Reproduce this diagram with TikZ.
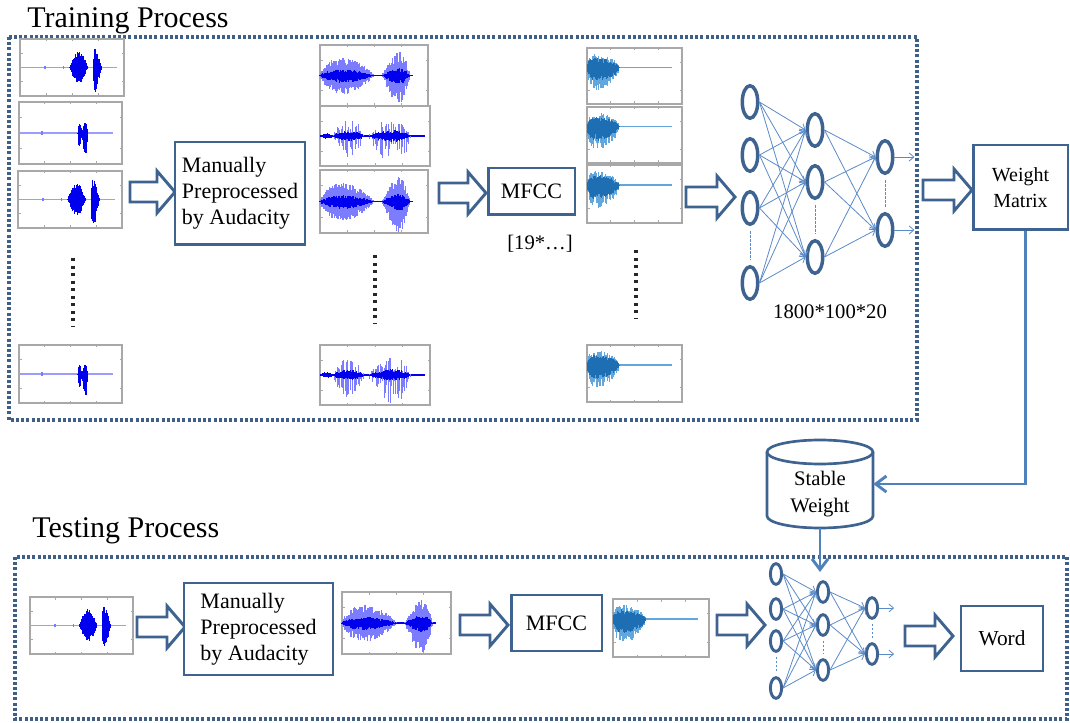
\documentclass[tikz,border=0pt]{standalone}
\usepackage{fontspec}
\setmainfont{Liberation Serif}
\usetikzlibrary{arrows.meta,shapes.geometric,calc}

\definecolor{boxblue}{HTML}{3F6390}
\definecolor{dotblue}{HTML}{3D5F88}
\definecolor{linkblue}{HTML}{4F81BD}
\definecolor{netblue}{HTML}{5A8AC8}
\definecolor{wavedark}{HTML}{0000EE}
\definecolor{wavelight}{HTML}{7C7CFF}
\definecolor{wavefaint}{HTML}{9C9CFF}
\definecolor{mfccdark}{HTML}{1E6EB4}
\definecolor{mfcclight}{HTML}{62A6DC}
\definecolor{framegray}{HTML}{A8A8A8}

\tikzset{
  region/.style={draw=dotblue, line width=2.3pt, dash pattern=on 2.25pt off 1.65pt},
  procbox/.style={draw=boxblue, line width=2pt, fill=white, inner sep=0pt, align=left,
    font=\fontsize{16.5}{19.5}\selectfont},
  heading/.style={anchor=base west, inner sep=0pt, font=\fontsize{22.5}{27}\selectfont},
  plain/.style={inner sep=0pt, font=\fontsize{15.5}{19}\selectfont},
  blockarrow/.style={draw=boxblue, line width=2.2pt, fill=white, line join=miter},
  neuron/.style={ellipse, draw=boxblue, line width=2.6pt, fill=white, inner sep=0pt,
    minimum width=11.6pt, minimum height=24.4pt},
  tneuron/.style={neuron, line width=2.2pt, minimum width=8.4pt, minimum height=15.5pt},
  synapse/.style={draw=netblue, line width=0.6pt, -{Straight Barb[length=3.5pt,width=6pt]}},
  gap/.style={draw=netblue, line width=0.7pt, dash pattern=on 2pt off 1pt,
    shorten <=4pt, shorten >=4pt},
  link/.style={draw=linkblue, line width=2.2pt, -{Straight Barb[length=8pt,width=12pt]}},
  cylline/.style={draw=boxblue, line width=2pt},
  thumbline/.style={draw=framegray, line width=1pt, fill=white},
  tick/.style={draw=framegray, line width=0.5pt},
  ellipsisdots/.style={draw=black!85, line width=2.4pt, dash pattern=on 2.25pt off 3.4pt}
}

% envelope shape defaults: peak position (\bq), sharpness (\bp), lowest random factor (\rlo)
\def\bq{1}\def\bp{0.6}\def\rlo{0.7}

% one burst of a waveform: vertical strokes under a sine envelope
\newcommand\burst[8]{% x0, x1, centre y, amp up, amp down, colour, step, stroke width
  \pgfmathsetmacro\bxa{#1}\pgfmathsetmacro\bxb{#2}\pgfmathsetmacro\byc{#3}%
  \pgfmathsetmacro\bup{#4}\pgfmathsetmacro\bdn{#5}%
  \pgfmathsetmacro\bwid{\bxb-\bxa}\pgfmathsetmacro\bnext{\bxa+#7}%
  \foreach \xx in {\bxa,\bnext,...,\bxb}{%
    \pgfmathsetmacro\wvt{(\xx-\bxa)/\bwid+0.001}%
    \pgfmathsetmacro\wve{(abs(sin(180*(\wvt)^\bq))+0.001)^\bp}%
    \pgfmathsetmacro\wvu{\bup*\wve*(\rlo+(1-\rlo)*rnd)}%
    \pgfmathsetmacro\wvd{\bdn*\wve*(\rlo+(1-\rlo)*rnd)}%
    \draw[#6, line width=#8] (\xx,\byc-\wvu) -- (\xx,\byc+\wvd);
  }}

% plot frame with faint axis ticks
\newcommand\thumbsetup[4]{%
  \draw[thumbline] (#1,#2) rectangle (#3,#4);
  \pgfmathsetmacro\tx{#1}\pgfmathsetmacro\twd{#3-#1}%
  \pgfmathsetmacro\tyc{(#2+#4)/2}\pgfmathsetmacro\thh{(#4-#2)/2}%
  \foreach \q in {0.25,0.5,0.75}{%
    \draw[tick] ({\tx+\q*\twd},#2) -- ++(0,2.5) ({\tx+\q*\twd},#4) -- ++(0,-2.5);}
  \foreach \q in {0.25,0.75}{%
    \draw[tick] (#1,{#2+\q*(#4-#2)}) -- ++(2.5,0) (#3,{#2+\q*(#4-#2)}) -- ++(-2.5,0);}
}

% raw recording, two syllables
\newcommand\rawA[4]{%
  \thumbsetup{#1}{#2}{#3}{#4}%
  \draw[wavefaint, line width=1pt] ({\tx+0.01*\twd},\tyc) -- ({\tx+0.93*\twd},\tyc);
  \draw[wavelight, line width=1.3pt] ({\tx+0.24*\twd},{\tyc-0.07*\thh}) -- ++(0,{0.14*\thh});
  \draw[wavelight, line width=1pt] ({\tx+0.42*\twd},{\tyc-0.04*\thh}) -- ++(0,{0.08*\thh});
  \def\bq{1}\def\bp{0.9}\def\rlo{0.6}%
  \burst{\tx+0.48*\twd}{\tx+0.65*\twd}{\tyc}{0.58*\thh}{0.56*\thh}{wavedark}{0.45}{0.9pt}
  \def\bq{0.45}\def\bp{1.1}\def\rlo{0.55}%
  \burst{\tx+0.705*\twd}{\tx+0.785*\twd}{\tyc}{0.78*\thh}{0.95*\thh}{wavedark}{0.45}{0.9pt}
}

% raw recording, short click
\newcommand\rawB[4]{%
  \thumbsetup{#1}{#2}{#3}{#4}%
  \draw[wavefaint, line width=1pt] ({\tx+0.01*\twd},\tyc) -- ({\tx+0.91*\twd},\tyc);
  \draw[wavelight, line width=1.3pt] ({\tx+0.22*\twd},{\tyc-0.06*\thh}) -- ++(0,{0.12*\thh});
  \def\bq{1}\def\bp{0.8}\def\rlo{0.7}%
  \burst{\tx+0.57*\twd}{\tx+0.61*\twd}{\tyc}{0.33*\thh}{0.45*\thh}{wavedark}{0.45}{0.9pt}
  \burst{\tx+0.615*\twd}{\tx+0.67*\twd}{\tyc}{0.33*\thh}{0.78*\thh}{wavedark}{0.45}{0.9pt}
}

% trimmed recording, dense envelope
\newcommand\prepA[4]{%
  \thumbsetup{#1}{#2}{#3}{#4}%
  \draw[wavedark, line width=1pt] ({\tx+0.0*\twd},\tyc) -- ({\tx+0.86*\twd},\tyc);
  \def\bq{0.8}\def\bp{0.8}\def\rlo{0.55}%
  \burst{\tx+0.0*\twd}{\tx+0.5*\twd}{\tyc}{0.6*\thh}{0.62*\thh}{wavelight}{0.7}{1pt}
  \def\rlo{0.5}%
  \burst{\tx+0.0*\twd}{\tx+0.5*\twd}{\tyc}{0.2*\thh}{0.24*\thh}{wavedark}{0.7}{1pt}
  \def\bq{1.4}\def\rlo{0.5}%
  \burst{\tx+0.57*\twd}{\tx+0.83*\twd}{\tyc}{0.8*\thh}{0.97*\thh}{wavelight}{0.7}{1pt}
  \burst{\tx+0.57*\twd}{\tx+0.83*\twd}{\tyc}{0.25*\thh}{0.3*\thh}{wavedark}{0.7}{1pt}
}

% trimmed recording, spiky voiced segments
\newcommand\prepB[4]{%
  \thumbsetup{#1}{#2}{#3}{#4}%
  \draw[wavedark, line width=0.9pt] ({\tx+0.0*\twd},\tyc) -- ({\tx+0.95*\twd},\tyc);
  \def\bq{1}\def\bp{0.6}\def\rlo{0.6}%
  \burst{\tx+0.0*\twd}{\tx+0.12*\twd}{\tyc}{0.1*\thh}{0.1*\thh}{wavedark}{0.8}{0.7pt}
  \def\rlo{0.1}%
  \burst{\tx+0.12*\twd}{\tx+0.40*\twd}{\tyc}{0.55*\thh}{0.75*\thh}{wavelight}{1.3}{0.6pt}
  \def\rlo{0.5}%
  \burst{\tx+0.12*\twd}{\tx+0.40*\twd}{\tyc}{0.18*\thh}{0.18*\thh}{wavedark}{0.9}{0.7pt}
  \def\bq{1.3}\def\rlo{0.1}%
  \burst{\tx+0.44*\twd}{\tx+0.82*\twd}{\tyc}{0.6*\thh}{0.97*\thh}{wavelight}{1.3}{0.6pt}
  \def\rlo{0.5}%
  \burst{\tx+0.44*\twd}{\tx+0.82*\twd}{\tyc}{0.2*\thh}{0.2*\thh}{wavedark}{0.9}{0.7pt}
}

% MFCC feature trace
\newcommand\mfccplot[4]{%
  \thumbsetup{#1}{#2}{#3}{#4}%
  \pgfmathsetmacro\tyl{\tyc-0.3*\thh}%
  \draw[mfcclight, line width=1.3pt] ({\tx+0.3*\twd},\tyl) -- ({\tx+0.89*\twd},\tyl);
  \def\bq{0.6}\def\bp{0.5}\def\rlo{0.4}%
  \burst{\tx+0.005*\twd}{\tx+0.34*\twd}{\tyl}{0.5*\thh}{0.8*\thh}{mfcclight}{0.6}{0.9pt}
  \def\rlo{0.5}%
  \burst{\tx+0.005*\twd}{\tx+0.34*\twd}{\tyl}{0.35*\thh}{0.5*\thh}{mfccdark}{0.6}{0.9pt}
}

% hollow block arrow
\newcommand\hollowarrow[3]{% tail x, tip x, centre y
  \pgfmathsetmacro\hab{#2-18}%
  \draw[blockarrow] (#1,#3-10) -- (\hab,#3-10) -- (\hab,#3-21) -- (#2,#3)
    -- (\hab,#3+21) -- (\hab,#3+10) -- (#1,#3+10) -- cycle;}

\begin{document}
\begin{tikzpicture}[x=0.75pt,y=-0.75pt]
\useasboundingbox (0,0) rectangle (1070,723);
\pgfmathsetseed{4242}

% ---------------- training stage ----------------
\node[heading] (trainhead) at (27,28) {Training Process};
\draw[region] (9,37) rectangle (917,420);

% recordings
\rawA{20}{39}{124}{96}
\rawB{19}{102}{122}{164}
\rawA{18}{171}{122}{228}
\rawB{19}{345}{122}{403}
\draw[ellipsisdots] (73,258) -- (73,326);

\hollowarrow{130}{175}{192}
\node[procbox, minimum width=97.5pt, minimum height=77pt] (prep) at (240,193.5)
  {Manually\\Preprocessed\\by Audacity};

% trimmed recordings
\prepA{320}{45}{428}{106}
\prepB{320}{106}{430}{166}
\prepA{320}{170}{428}{233}
\prepB{320}{345}{430}{405}
\draw[ellipsisdots] (375,255) -- (375,323);

\hollowarrow{439}{486}{193}
\node[procbox, minimum width=65pt, minimum height=35pt, font=\fontsize{16.5}{19.5}\selectfont]
  (mfcc) at (531.5,191.5) {MFCC};
\node[plain] (dim) at (540,244) {[19*…]};

% feature traces
\mfccplot{587}{48}{682}{104}
\mfccplot{587}{107}{682}{163}
\mfccplot{587}{165}{682}{223}
\mfccplot{587}{345}{682}{402}
\draw[ellipsisdots] (636,250) -- (636,318);

\hollowarrow{686}{735}{197}

% network
\foreach \n/\y in {1/102,2/155,3/208,4/283} \node[neuron] (na\n) at (750,\y) {};
\foreach \n/\y in {1/130,2/182,3/257} \node[neuron] (nb\n) at (815,\y) {};
\foreach \n/\y in {1/157,2/230} \node[neuron] (nc\n) at (885,\y) {};
\foreach \a in {1,...,4} \foreach \b in {1,2,3} \draw[synapse] (na\a.east) -- (nb\b.west);
\foreach \a in {1,2,3} \foreach \b in {1,2} \draw[synapse] (nb\a.east) -- (nc\b.west);
\foreach \b in {1,2} {\coordinate (out\b) at ($(nc\b.east)+(20,0)$); \draw[synapse] (nc\b.east) -- (out\b);}
\draw[gap] (na3.south) -- (na4.north);
\draw[gap] (nb2.south) -- (nb3.north);
\draw[gap] (nc1.south) -- (nc2.north);
\node[plain] (size) at (830,312) {1800*100*20};

\hollowarrow{923}{972}{190}
\node[procbox, minimum width=71pt, minimum height=63.5pt, align=center,
  font=\fontsize{15}{19.5}\selectfont] (wm) at (1020.5,187.5) {Weight\\Matrix};

% ---------------- stored weights ----------------
\path[fill=white] (767,452) -- (767,516) arc[start angle=180,end angle=360,x radius=39.75pt,y radius=9pt]
  -- (873,452) arc[start angle=0,end angle=180,x radius=39.75pt,y radius=9pt] -- cycle;
\draw[cylline] (767,452) -- (767,516) arc[start angle=180,end angle=360,x radius=39.75pt,y radius=9pt]
  -- (873,452);
\draw[cylline] (820,452) ellipse[x radius=39.75pt, y radius=9pt];
\node[minimum width=79.5pt, minimum height=66pt, inner sep=0pt] (sw) at (820,484) {};
\node[plain, align=center, font=\fontsize{15.5}{20}\selectfont] (swtext) at (820,494) {Stable\\Weight};

\draw[link] ([xshift=3.75pt]wm.south) |- (sw.east);

% ---------------- testing stage ----------------
\node[heading] (testhead) at (32,537) {Testing Process};
\draw[region] (15,557) rectangle (1067,719);

\rawA{30}{597}{133}{654}
\hollowarrow{137}{185}{627}
\node[procbox, minimum width=111.75pt, minimum height=69pt] (tprep) at (258.5,629)
  {Manually\\Preprocessed\\by Audacity};
\prepA{342}{592}{451}{654}
\hollowarrow{460}{508}{625}
\node[procbox, minimum width=68pt, minimum height=42pt] (tmfcc) at (556.5,623) {MFCC};
\mfccplot{613}{599}{709}{657}
\hollowarrow{717}{765}{625}

\foreach \n/\y in {1/574,2/609,3/641,4/688} \node[tneuron] (ta\n) at (776,\y) {};
\foreach \n/\y in {1/592,2/625,3/670} \node[tneuron] (tb\n) at (823,\y) {};
\foreach \n/\y in {1/608,2/654} \node[tneuron] (tc\n) at (872,\y) {};
\foreach \a in {1,...,4} \foreach \b in {1,2,3} \draw[synapse] (ta\a.east) -- (tb\b.west);
\foreach \a in {1,2,3} \foreach \b in {1,2} \draw[synapse] (tb\a.east) -- (tc\b.west);
\foreach \b in {1,2} {\coordinate (tout\b) at ($(tc\b.east)+(15,0)$); \draw[synapse] (tc\b.east) -- (tout\b);}
\draw[gap, shorten <=3pt, shorten >=3pt] (ta3.south) -- (ta4.north);
\draw[gap, shorten <=3pt, shorten >=3pt] (tb2.south) -- (tb3.north);
\draw[gap, shorten <=3pt, shorten >=3pt] (tc1.south) -- (tc2.north);

\coordinate (netin) at (820,572);
\draw[link] (sw.south) -- (netin);

\hollowarrow{905}{953}{636}
\node[procbox, minimum width=61.5pt, minimum height=48.75pt, font=\fontsize{16}{19.5}\selectfont]
  (word) at (1002,638.5) {Word};
\end{tikzpicture}
\end{document}
